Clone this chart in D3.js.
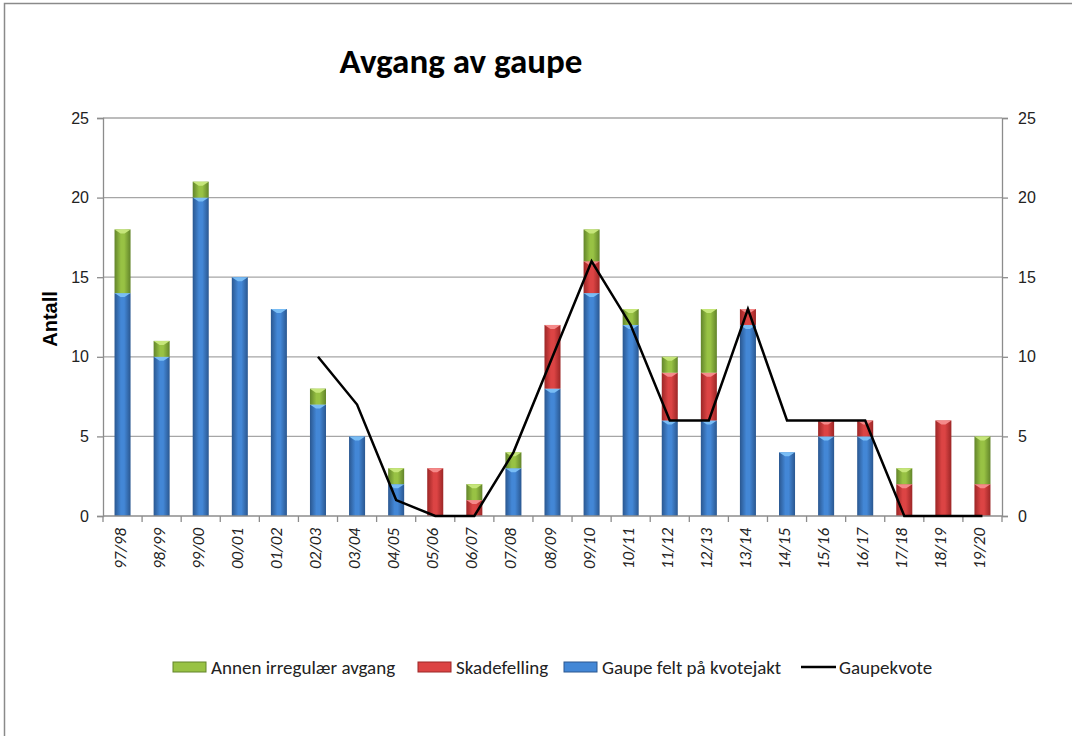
<!DOCTYPE html>
<html lang="no">
<head>
  <meta charset="UTF-8">
  <title>Avgang av gaupe</title>
  <script src="https://d3js.org/d3.v7.min.js"></script>
  <style>
    body { margin: 0; background: #fff; }
    svg { display: block; font-family: Carlito, Calibri, Lato, "Open Sans", sans-serif; }
    .grid line { stroke: #a6a6a6; stroke-width: 1.3px; }
    .axis path, .axis line { stroke: #8c8c8c; stroke-width: 1.3px; }
    .axis text { fill: #222; font-size: 16px; }
    .xlab { font-style: italic; font-size: 17px !important; }
  </style>
</head>
<body>
  <svg></svg>

  <script>
    // Data
    const seasons = ['97/98','98/99','99/00','00/01','01/02','02/03','03/04','04/05','05/06','06/07','07/08','08/09',
                     '09/10','10/11','11/12','12/13','13/14','14/15','15/16','16/17','17/18','18/19','19/20'];
    const kvotejakt = [14,10,20,15,13,7,5,2,0,0,3,8,14,12,6,6,12,4,5,5,0,0,0];
    const skadefelling = [0,0,0,0,0,0,0,0,3,1,0,4,2,0,3,3,1,0,1,1,2,6,2];
    const annen = [4,1,1,0,0,1,0,1,0,1,1,0,2,1,1,4,0,0,0,0,1,0,3];
    // kvote starts at 02/03
    const kvote = [null,null,null,null,null,10,7,1,0,0,4,10,16,12,6,6,13,6,6,6,0,0,0];
    const yTicks = [0,5,10,15,20,25];

    const width = 1072, height = 736;
    const margin = { top: 118, right: 70, bottom: 220, left: 103 };

    const svg = d3.select('svg')
      .attr('width', width)
      .attr('height', height);

    // outer frame
    svg.append('rect')
      .attr('x', 4.5).attr('y', 3.5)
      .attr('width', 1200).attr('height', 900)
      .attr('fill', 'none').attr('stroke', '#8a8a8a').attr('stroke-width', 1.5);

    const x = d3.scaleBand()
      .domain(seasons)
      .range([margin.left, 1002])
      .paddingInner(0.59).paddingOuter(0.295);

    const y = d3.scaleLinear()
      .domain([0, 25])
      .range([516, margin.top]);

    const series = [
      { key: 'kvotejakt', name: 'Gaupe felt på kvotejakt', values: kvotejakt, edge: '#2a5790', mid: '#4387d6', top: '#79bdf5' },
      { key: 'skadefelling', name: 'Skadefelling', values: skadefelling, edge: '#9c2626', mid: '#dc4444', top: '#f58a8a' },
      { key: 'annen', name: 'Annen irregulær avgang', values: annen, edge: '#62842a', mid: '#98c244', top: '#c6e67a' }
    ];

    const table = seasons.map((s, i) => {
      const row = { season: s };
      series.forEach(se => row[se.key] = se.values[i]);
      return row;
    });
    const stacked = d3.stack().keys(series.map(s => s.key))(table);

    // gradients
    const defs = svg.append('defs');
    series.forEach(se => {
      const g = defs.append('linearGradient').attr('id', 'g-' + se.key)
        .attr('x1', '0%').attr('x2', '100%').attr('y1', '0%').attr('y2', '0%');
      g.append('stop').attr('offset', '0%').attr('stop-color', se.edge);
      g.append('stop').attr('offset', '40%').attr('stop-color', se.mid);
      g.append('stop').attr('offset', '60%').attr('stop-color', se.mid);
      g.append('stop').attr('offset', '100%').attr('stop-color', se.edge);
    });

    // gridlines
    svg.append('g').attr('class', 'grid')
      .selectAll('line').data(yTicks.slice(1)).join('line')
      .attr('x1', margin.left).attr('x2', 1002)
      .attr('y1', d => y(d)).attr('y2', d => y(d));

    // bars
    stacked.forEach((layer, li) => {
      const se = series[li];
      const g = svg.append('g');
      const segs = layer.map((d, i) => ({ s: seasons[i], y0: d[0], y1: d[1] })).filter(d => d.y1 > d.y0);
      g.selectAll('rect').data(segs).join('rect')
        .attr('x', d => x(d.s))
        .attr('y', d => y(d.y1))
        .attr('width', x.bandwidth())
        .attr('height', d => y(d.y0) - y(d.y1))
        .attr('fill', 'url(#g-' + se.key + ')');
      // bevel at top of each segment
      g.selectAll('path').data(segs).join('path')
        .attr('d', d => {
          const x0 = x(d.s), w = x.bandwidth(), t = y(d.y1);
          return `M${x0},${t}L${x0 + w},${t}L${x0 + w / 2 + 2},${t + 4}L${x0 + w / 2 - 2},${t + 4}Z`;
        })
        .attr('fill', se.top);
    });

    // axes
    const step = x.step();
    const bottom = svg.append('g').attr('class', 'axis');
    bottom.append('line').attr('x1', margin.left).attr('x2', 1002).attr('y1', y(0)).attr('y2', y(0));
    bottom.selectAll('line.tk').data(d3.range(seasons.length + 1)).join('line')
      .attr('class', 'tk')
      .attr('x1', i => margin.left + i * step).attr('x2', i => margin.left + i * step)
      .attr('y1', y(0)).attr('y2', y(0) + 6);
    bottom.selectAll('text').data(seasons).join('text')
      .attr('class', 'xlab')
      .attr('transform', d => `translate(${x(d) + x.bandwidth() / 2 + 3},${y(0) + 12}) rotate(-90)`)
      .attr('text-anchor', 'end')
      .text(d => d);

    svg.append('g').attr('class', 'axis')
      .attr('transform', `translate(${margin.left},0)`)
      .call(d3.axisLeft(y).tickValues(yTicks).tickSize(6).tickPadding(8));

    svg.append('g').attr('class', 'axis')
      .attr('transform', 'translate(1002,0)')
      .call(d3.axisRight(y).tickValues(yTicks).tickSize(6).tickPadding(10));

    svg.selectAll('.axis .domain').attr('stroke', '#8c8c8c');

    // kvote line
    const line = d3.line()
      .defined(d => d.v !== null)
      .x(d => x(d.s) + x.bandwidth() / 2)
      .y(d => y(d.v));
    svg.append('path')
      .datum(seasons.map((s, i) => ({ s, v: kvote[i] })))
      .attr('d', line)
      .attr('fill', 'none').attr('stroke', '#000').attr('stroke-width', 2.5);

    // title and y label
    svg.append('text')
      .attr('x', 461).attr('y', 73)
      .attr('text-anchor', 'middle')
      .style('font-size', '35px').style('font-weight', 'bold')
      .text('Avgang av gaupe');

    svg.append('text')
      .attr('transform', 'translate(57,319) rotate(-90)')
      .attr('text-anchor', 'middle')
      .style('font-family', '"Liberation Sans", Arial, sans-serif')
      .style('font-size', '20px').style('font-weight', 'bold')
      .text('Antall');

    // legend
    const legendItems = [
      { name: 'Annen irregulær avgang', se: series[2], x: 173 },
      { name: 'Skadefelling', se: series[1], x: 418 },
      { name: 'Gaupe felt på kvotejakt', se: series[0], x: 564 },
      { name: 'Gaupekvote', se: null, x: 801 }
    ];
    const lg = svg.append('g').selectAll('g').data(legendItems).join('g')
      .attr('transform', d => `translate(${d.x},667)`);
    lg.filter(d => d.se).append('rect')
      .attr('x', 0).attr('y', -5).attr('width', 33).attr('height', 10)
      .attr('fill', d => d.se.mid).attr('stroke', d => d.se.edge).attr('stroke-width', 1);
    lg.filter(d => !d.se).append('line')
      .attr('x1', 0).attr('x2', 35).attr('y1', 0).attr('y2', 0)
      .attr('stroke', '#000').attr('stroke-width', 2.5);
    lg.append('text')
      .attr('x', 38).attr('y', 7)
      .style('font-size', '19px').attr('fill', '#222')
      .text(d => d.name);
  </script>
</body>
</html>
